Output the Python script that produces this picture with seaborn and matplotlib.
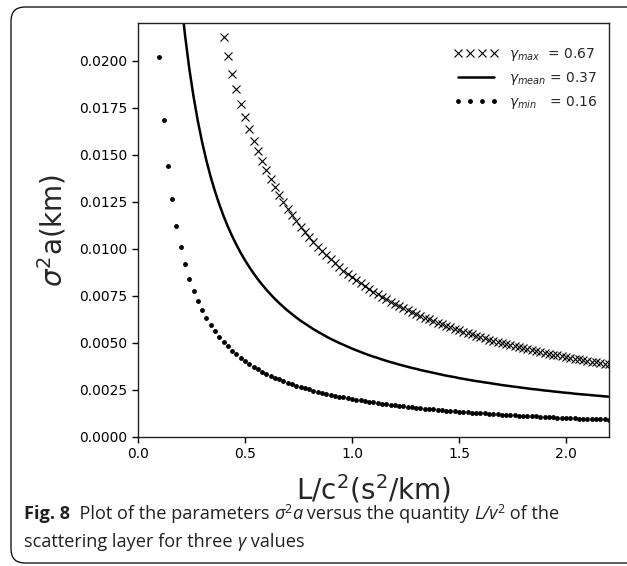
import numpy as np
import seaborn as sns
import matplotlib
matplotlib.use("Agg")
import matplotlib.pyplot as plt
from matplotlib.patches import FancyBboxPatch
from matplotlib.transforms import IdentityTransform

# x grid of L/c^2 values (s^2/km), shared by the three series
x_grid = [0.10, 0.12, 0.14, 0.16, 0.18, 0.20, 0.22, 0.24, 0.26, 0.28,
          0.30, 0.32, 0.34, 0.36, 0.38, 0.40, 0.42, 0.44, 0.46, 0.48,
          0.50, 0.52, 0.54, 0.56, 0.58, 0.60, 0.62, 0.64, 0.66, 0.68,
          0.70, 0.72, 0.74, 0.76, 0.78, 0.80, 0.82, 0.84, 0.86, 0.88,
          0.90, 0.92, 0.94, 0.96, 0.98, 1.00, 1.02, 1.04, 1.06, 1.08,
          1.10, 1.12, 1.14, 1.16, 1.18, 1.20, 1.22, 1.24, 1.26, 1.28,
          1.30, 1.32, 1.34, 1.36, 1.38, 1.40, 1.42, 1.44, 1.46, 1.48,
          1.50, 1.52, 1.54, 1.56, 1.58, 1.60, 1.62, 1.64, 1.66, 1.68,
          1.70, 1.72, 1.74, 1.76, 1.78, 1.80, 1.82, 1.84, 1.86, 1.88,
          1.90, 1.92, 1.94, 1.96, 1.98, 2.00, 2.02, 2.04, 2.06, 2.08,
          2.10, 2.12, 2.14, 2.16, 2.18, 2.20]

# gamma_min = 0.16 (dots), x from 0.10
y_min = [0.02020, 0.01683, 0.01443, 0.01263, 0.01122, 0.01010, 0.00918, 0.00842, 0.00777, 0.00721,
         0.00673, 0.00631, 0.00594, 0.00561, 0.00532, 0.00505, 0.00481, 0.00459, 0.00439, 0.00421,
         0.00404, 0.00388, 0.00374, 0.00361, 0.00348, 0.00337, 0.00326, 0.00316, 0.00306, 0.00297,
         0.00289, 0.00281, 0.00273, 0.00266, 0.00259, 0.00253, 0.00246, 0.00240, 0.00235, 0.00230,
         0.00224, 0.00220, 0.00215, 0.00210, 0.00206, 0.00202, 0.00198, 0.00194, 0.00191, 0.00187,
         0.00184, 0.00180, 0.00177, 0.00174, 0.00171, 0.00168, 0.00166, 0.00163, 0.00160, 0.00158,
         0.00155, 0.00153, 0.00151, 0.00149, 0.00146, 0.00144, 0.00142, 0.00140, 0.00138, 0.00136,
         0.00135, 0.00133, 0.00131, 0.00129, 0.00128, 0.00126, 0.00125, 0.00123, 0.00122, 0.00120,
         0.00119, 0.00117, 0.00116, 0.00115, 0.00113, 0.00112, 0.00111, 0.00110, 0.00109, 0.00107,
         0.00106, 0.00105, 0.00104, 0.00103, 0.00102, 0.00101, 0.00100, 0.00099, 0.00098, 0.00097,
         0.00096, 0.00095, 0.00094, 0.00094, 0.00093, 0.00092]

# gamma_mean = 0.37 (solid line), x from 0.20
y_mean = [0.02350, 0.02136, 0.01958, 0.01808, 0.01679, 0.01567, 0.01469, 0.01382, 0.01306, 0.01237,
          0.01175, 0.01119, 0.01068, 0.01022, 0.00979, 0.00940, 0.00904, 0.00870, 0.00839, 0.00810,
          0.00783, 0.00758, 0.00734, 0.00712, 0.00691, 0.00671, 0.00653, 0.00635, 0.00618, 0.00603,
          0.00588, 0.00573, 0.00560, 0.00547, 0.00534, 0.00522, 0.00511, 0.00500, 0.00490, 0.00480,
          0.00470, 0.00461, 0.00452, 0.00443, 0.00435, 0.00427, 0.00420, 0.00412, 0.00405, 0.00398,
          0.00392, 0.00385, 0.00379, 0.00373, 0.00367, 0.00362, 0.00356, 0.00351, 0.00346, 0.00341,
          0.00336, 0.00331, 0.00326, 0.00322, 0.00318, 0.00313, 0.00309, 0.00305, 0.00301, 0.00297,
          0.00294, 0.00290, 0.00287, 0.00283, 0.00280, 0.00276, 0.00273, 0.00270, 0.00267, 0.00264,
          0.00261, 0.00258, 0.00255, 0.00253, 0.00250, 0.00247, 0.00245, 0.00242, 0.00240, 0.00237,
          0.00235, 0.00233, 0.00230, 0.00228, 0.00226, 0.00224, 0.00222, 0.00220, 0.00218, 0.00216,
          0.00214]

# gamma_max = 0.67 (crosses), x from 0.40
y_max = [0.02125, 0.02024, 0.01932, 0.01848, 0.01771, 0.01700, 0.01635, 0.01574, 0.01518, 0.01466,
         0.01417, 0.01371, 0.01328, 0.01288, 0.01250, 0.01214, 0.01181, 0.01149, 0.01118, 0.01090,
         0.01063, 0.01037, 0.01012, 0.00988, 0.00966, 0.00944, 0.00924, 0.00904, 0.00885, 0.00867,
         0.00850, 0.00833, 0.00817, 0.00802, 0.00787, 0.00773, 0.00759, 0.00746, 0.00733, 0.00720,
         0.00708, 0.00697, 0.00685, 0.00675, 0.00664, 0.00654, 0.00644, 0.00634, 0.00625, 0.00616,
         0.00607, 0.00599, 0.00590, 0.00582, 0.00574, 0.00567, 0.00559, 0.00552, 0.00545, 0.00538,
         0.00531, 0.00525, 0.00518, 0.00512, 0.00506, 0.00500, 0.00494, 0.00489, 0.00483, 0.00478,
         0.00472, 0.00467, 0.00462, 0.00457, 0.00452, 0.00447, 0.00443, 0.00438, 0.00434, 0.00429,
         0.00425, 0.00421, 0.00417, 0.00413, 0.00409, 0.00405, 0.00401, 0.00397, 0.00394, 0.00390,
         0.00386]

x_min = x_grid
x_mean = x_grid[5:]
x_max = x_grid[15:]

labels = [r"$\gamma_{max}$  = 0.67", r"$\gamma_{mean}$ = 0.37", r"$\gamma_{min}$   = 0.16"]
x_ticks = [0.0, 0.5, 1.0, 1.5, 2.0]
y_ticks = [0.0, 0.0025, 0.005, 0.0075, 0.01, 0.0125, 0.015, 0.0175, 0.02]

sns.set_theme(style="ticks")
plt.rcParams['font.family'] = ['DejaVu Sans']

fig = plt.figure(figsize=(6.27, 5.66), dpi=100)
ax = fig.add_axes([0.220, 0.228, 0.751, 0.731])

sns.lineplot(x=x_max, y=y_max, ax=ax, color="black", marker="x", linestyle="",
             markersize=5.2, markeredgecolor="black", markeredgewidth=0.8,
             estimator=None, sort=False, label=labels[0])
sns.lineplot(x=x_mean, y=y_mean, ax=ax, color="black", linewidth=1.8,
             estimator=None, sort=False, label=labels[1])
sns.lineplot(x=x_min, y=y_min, ax=ax, color="black", marker="o", linestyle="",
             markersize=3.5, markeredgecolor="black", markeredgewidth=0,
             estimator=None, sort=False, label=labels[2])

ax.set_xlim(0, 2.2)
ax.set_ylim(0, 0.022)
ax.set_xticks(x_ticks)
ax.set_xticklabels([f"{v:.1f}" for v in x_ticks])
ax.set_yticks(y_ticks)
ax.set_yticklabels([f"{v:.4f}" for v in y_ticks])
ax.tick_params(labelsize=10, length=4, width=1, colors="black")
for s in ax.spines.values():
    s.set_color("#222222")
    s.set_linewidth(1.0)
ax.set_xlabel(r"L/c$^2$(s$^2$/km)", fontsize=20, labelpad=8)
ax.set_ylabel(r"$\sigma^2$a(km)", fontsize=20, labelpad=8)

leg = ax.legend(loc="upper right", bbox_to_anchor=(1.0, 0.972), frameon=False,
                numpoints=4, fontsize=10, handlelength=3.2, labelspacing=0.5,
                borderaxespad=0.4)

# rounded frame around figure + caption (open on the right, like the page crop)
frame = FancyBboxPatch((11, 3), 700, 556, boxstyle="round,pad=0,rounding_size=14",
                       transform=IdentityTransform(), fill=False,
                       edgecolor="black", linewidth=0.9)
fig.add_artist(frame)

renderer = fig.canvas.get_renderer()


def put_runs(x, y, runs, size=13.1):
    for txt, kw in runs:
        kw = dict(kw)
        fs = kw.pop("fontsize", size)
        dy = kw.pop("dy", 0)
        t = fig.text(x, y + dy, txt, transform=IdentityTransform(), fontsize=fs,
                     family="Open Sans", color="#231f20", va="baseline", **kw)
        x = t.get_window_extent(renderer).x1


sup = dict(fontsize=9, dy=6)
put_runs(24, 566 - 519, [
    ("Fig. 8", dict(weight="bold")),
    ("  Plot of the parameters ", {}),
    ("σ", dict(style="italic")),
    ("2", sup),
    ("a", dict(style="italic")),
    (" versus the quantity ", {}),
    ("L/v", dict(style="italic")),
    ("2", sup),
    (" of the", {}),
])
put_runs(24, 566 - 547, [("scattering layer for three ", {}),
                         ("γ", dict(style="italic")),
                         (" values", {})])

fig.savefig("out.png", dpi=100)
